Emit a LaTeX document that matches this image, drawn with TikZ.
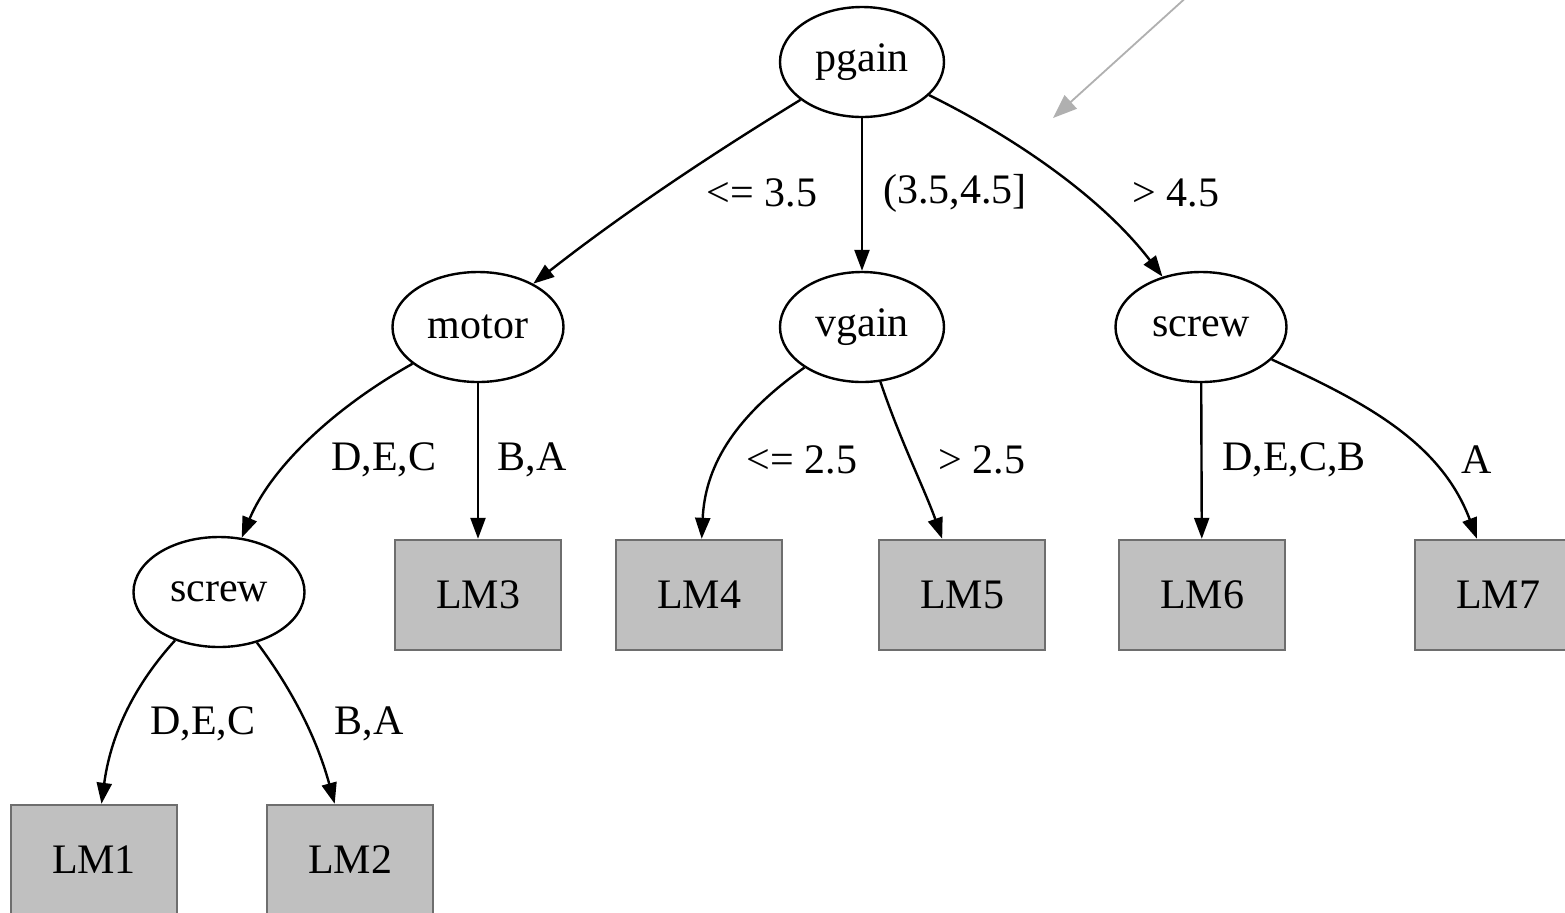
\documentclass[tikz,border=0pt]{standalone}
\usepackage{fontspec}
\setmainfont{Liberation Serif}
\usetikzlibrary{shapes.geometric,arrows.meta}
\definecolor{leafgray}{HTML}{C0C0C0}
\definecolor{leafedge}{HTML}{6E6E6E}
\definecolor{pointer}{HTML}{B0B0B0}
\begin{document}
\begin{tikzpicture}[x=0.5pt,y=-0.5pt,
  every node/.style={font=\fontsize{21}{24}\selectfont},
  split/.style={ellipse,draw=black,line width=1.2pt,minimum width=82pt,minimum height=55pt,inner sep=0pt},
  wide/.style={minimum width=85.5pt},
  leaf/.style={rectangle,draw=leafedge,line width=1.2pt,fill=leafgray,minimum width=83pt,minimum height=55pt,inner sep=0pt},
  branch/.style={line width=1.2pt,-{Triangle[length=10.5pt,width=7.5pt]}},
  lbl/.style={inner sep=0pt}]
\useasboundingbox[fill=white] (0,0) rectangle (1565,912);

% decision nodes
\node[split] (pgain) at (862,62) {pgain};
\node[split,wide] (motor) at (478,327) {motor};
\node[split] (vgain) at (862,327) {vgain};
\node[split,wide] (screwR) at (1201,327) {screw};
\node[split,wide] (screwL) at (219,592) {screw};

% leaf models
\node[leaf] (lm1) at (94,860) {LM1};
\node[leaf] (lm2) at (350,860) {LM2};
\node[leaf] (lm3) at (478,595) {LM3};
\node[leaf] (lm4) at (699,595) {LM4};
\node[leaf] (lm5) at (962,595) {LM5};
\node[leaf] (lm6) at (1202,595) {LM6};
\node[leaf] (lm7) at (1498,595) {LM7};

% branches
\draw[branch] (pgain) .. controls (740,137) and (640,200) .. (motor);
\draw[branch] (pgain) -- (vgain);
\draw[branch] (pgain) .. controls (1010,135) and (1100,195) .. (screwR);
\draw[branch] (motor) .. controls (330,410) and (270,470) .. (screwL);
\draw[branch] (motor) -- (lm3);
\draw[branch] (vgain) .. controls (730,420) and (705,470) .. (lm4);
\draw[branch] (vgain) .. controls (900,440) and (925,490) .. (lm5);
\draw[branch] (screwR) -- (lm6);
\draw[branch] (screwR) .. controls (1360,400) and (1440,440) .. (lm7);
\draw[branch] (screwL) .. controls (130,690) and (110,740) .. (lm1);
\draw[branch] (screwL) .. controls (300,700) and (320,750) .. (lm2);

% branch conditions
\node[lbl] (c1) at (762,193) {<= 3.5};
\node[lbl] (c2) at (955,193) {(3.5,4.5]};
\node[lbl] (c3) at (1176,193) {> 4.5};
\node[lbl] (c4) at (384,460) {D,E,C};
\node[lbl] (c5) at (532,460) {B,A};
\node[lbl] (c6) at (802,460) {<= 2.5};
\node[lbl] (c7) at (982,460) {> 2.5};
\node[lbl] (c8) at (1294,460) {D,E,C,B};
\node[lbl] (c9) at (1477,460) {A};
\node[lbl] (c10) at (203,724) {D,E,C};
\node[lbl] (c11) at (369,724) {B,A};

% pointer arrow
\coordinate (ptrfrom) at (1190,-6);
\coordinate (ptrto) at (1053,118);
\draw[pointer,line width=0.9pt,-{Triangle[length=12pt,width=9pt]}] (ptrfrom) -- (ptrto);
\end{tikzpicture}
\end{document}
